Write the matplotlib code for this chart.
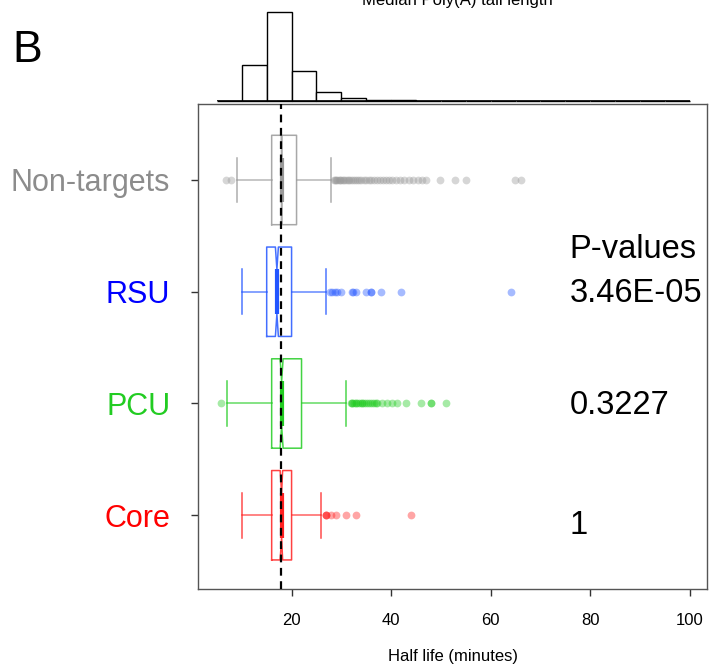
import matplotlib
matplotlib.use('Agg')
import matplotlib.pyplot as plt
import numpy as np

plt.rcParams['font.family'] = ['Liberation Sans', 'DejaVu Sans']

# groups, bottom to top
groups = ['Core', 'PCU', 'RSU', 'Non-targets']
label_colors = ['#ff0000', '#22cc22', '#0000ff', '#8c8c8c']
box_colors = ['#ff2020', '#22cc22', '#2255ff', '#999999']

q1 = [16.0, 16.0, 15.0, 16.0]
med = [18.0, 18.0, 17.05, 18.0]
q3 = [20.0, 22.0, 20.0, 21.0]
whislo = [10.0, 7.0, 10.0, 9.0]
whishi = [26.0, 31.0, 27.0, 28.0]
cilo = [17.7, 17.7, 16.75, 17.92]
cihi = [18.2, 18.3, 17.35, 18.08]

fliers_core = [27.0, 27.0, 27.0, 28.0, 29.0, 31.0, 33.0, 44.0]
fliers_pcu = [5.9, 31.9, 32.2, 32.2, 32.6, 33.0, 33.0, 33.4, 33.8, 34.2, 34.2,
              34.6, 35.0, 35.4, 35.8, 36.2, 36.6, 37.0, 37.1, 38.1, 39.1, 40.1,
              41.1, 43.0, 46.0, 48.0, 48.0, 51.0]
fliers_rsu = [27.8, 28.2, 28.7, 29.2, 30.0, 32.1, 32.4, 33.0, 34.9, 35.9, 35.9,
              37.9, 42.0, 64.0]
fliers_nt = [6.8, 7.8, 28.5, 28.8, 29.0, 29.2, 29.5, 29.8, 30.0, 30.3, 30.6,
             31.0, 31.3, 31.6, 32.0, 32.4, 32.8, 33.2, 33.6, 34.0, 34.5, 35.0,
             35.5, 36.0, 36.6, 37.2, 37.8, 38.4, 39.0, 39.6, 40.2, 41.0, 41.8,
             42.6, 43.5, 44.4, 45.3, 46.2, 47.1, 49.9, 52.9, 55.0, 64.9, 66.0]
fliers = [fliers_core, fliers_pcu, fliers_rsu, fliers_nt]

pval_text = ['P-values', '3.46E-05', '0.3227', '1']
pval_y = [3.30, 2.91, 1.905, 0.83]   # baselines
global_median = 17.9

# histogram of median poly(A) tail length (top panel)
hist_left = [5, 10, 15, 20, 25, 30, 35, 40, 45, 50, 55, 60, 65, 70, 75, 80, 85, 90, 95]
hist_counts = [5, 420, 1040, 350, 100, 30, 12, 6, 3, 2, 1, 1, 0, 0, 0, 0, 0, 0, 1]

W, H = 709, 670
fig = plt.figure(figsize=(W / 100, H / 100), dpi=100)

xlim = (1.2, 103.4)
ax = fig.add_axes([198 / W, 1 - 589 / H, (706.7 - 198) / W, (589 - 104) / H])
axh = fig.add_axes([198 / W, 1 - 101 / H, (706.7 - 198) / W, (101 - 11.7) / H])

for i in range(4):
    stats = [dict(med=med[i], q1=q1[i], q3=q3[i], whislo=whislo[i], whishi=whishi[i],
                  cilo=cilo[i], cihi=cihi[i], fliers=fliers[i], label=groups[i])]
    c = box_colors[i]
    ax.bxp(stats, positions=[i + 1], widths=0.8, orientation='horizontal',
           shownotches=True, showfliers=True,
           boxprops=dict(color=c, lw=1.1, alpha=0.85),
           whiskerprops=dict(color=c, lw=1.1, alpha=0.7),
           capprops=dict(color=c, lw=1.1, alpha=0.8),
           medianprops=dict(color=c, lw=3),
           flierprops=dict(marker='o', markerfacecolor=c, markeredgecolor='none',
                           markersize=5.6, alpha=0.4))

ax.axvline(global_median, color='black', ls=(0, (3.5, 2.5)), lw=1.6, zorder=6)

ax.set_xlim(*xlim)
ax.set_ylim(0.34, 4.68)
ax.set_xticks([20, 40, 60, 80, 100])
ax.set_yticks([1, 2, 3, 4])
ax.set_yticklabels(groups, fontsize=22)
for lab, col in zip(ax.get_yticklabels(), label_colors):
    lab.set_color(col)
ax.tick_params(axis='x', direction='out', length=5, width=1, labelsize=12, pad=12, color='#333333')
ax.tick_params(axis='y', direction='out', length=5, width=1, pad=15, color='#333333')
for s in ax.spines.values():
    s.set_color('#555555')
    s.set_linewidth(1)

for t, y in zip(pval_text, pval_y):
    ax.text(75.8, y, t, fontsize=23.5, ha='left', va='baseline')

fig.text(453 / W, 1 - 657 / H, 'Half life (minutes)', fontsize=12, ha='center', va='center')

axh.bar(hist_left, hist_counts, width=5, align='edge', color='white',
        edgecolor='black', lw=1, clip_on=False)
axh.hlines(0, 5, 100, color='black', lw=1.2)
axh.set_xlim(*xlim)
axh.set_ylim(0, max(hist_counts))
axh.axis('off')

fig.text(457 / W, 1.0, 'Median Poly(A) tail length', fontsize=12, ha='center', va='center')
fig.text(12 / W, 1 - 62 / H, 'B', fontsize=32, ha='left', va='baseline')

fig.savefig('out.png', dpi=100)
